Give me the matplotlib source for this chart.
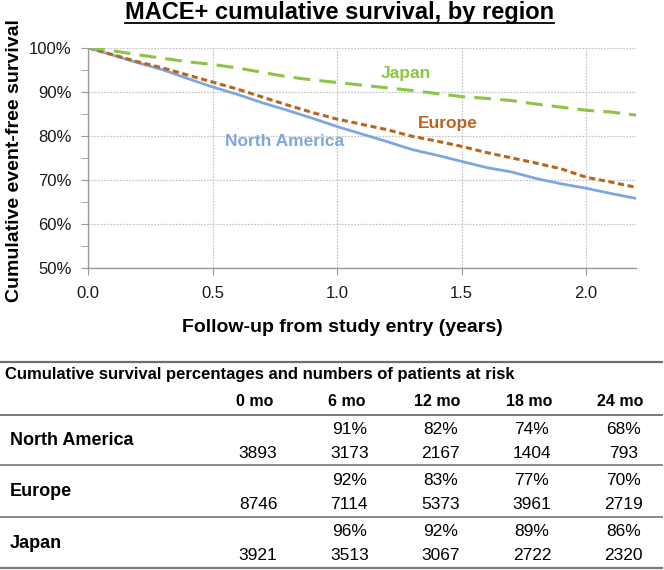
import numpy as np
import matplotlib
matplotlib.use("Agg")
import matplotlib.pyplot as plt
from matplotlib.lines import Line2D
from matplotlib.ticker import MultipleLocator, FuncFormatter

plt.rcParams['font.family'] = ['Liberation Sans', 'DejaVu Sans']

# Survival curves (years, % event-free)
years = [0.0, 0.1, 0.2, 0.3, 0.4, 0.5, 0.6, 0.7, 0.8, 0.9, 1.0, 1.1,
         1.2, 1.3, 1.4, 1.5, 1.6, 1.7, 1.8, 1.9, 2.0, 2.1, 2.2]
north_america = [100, 98.3, 96.6, 95.0, 93.0, 91.1, 89.4, 87.5, 85.8, 84.0, 82.1, 80.4,
                 78.7, 76.9, 75.6, 74.2, 72.8, 71.8, 70.3, 69.1, 68.1, 66.9, 65.8]
europe = [100, 98.4, 96.8, 95.4, 93.8, 92.2, 90.6, 88.8, 87.0, 85.3, 83.8, 82.6,
          81.4, 79.9, 78.8, 77.6, 76.2, 75.0, 73.8, 72.5, 70.6, 69.5, 68.3]
japan = [100, 99.3, 98.4, 97.6, 96.8, 96.2, 95.4, 94.4, 93.4, 92.7, 92.1, 91.5,
         90.9, 90.3, 89.6, 88.9, 88.5, 88.0, 87.2, 86.5, 85.8, 85.4, 84.7]

# Table under the chart
regions = ["North America", "Europe", "Japan"]
months = ["0 mo", "6 mo", "12 mo", "18 mo", "24 mo"]
pct_na = ["", "91%", "82%", "74%", "68%"]
pct_eu = ["", "92%", "83%", "77%", "70%"]
pct_jp = ["", "96%", "92%", "89%", "86%"]
risk_na = [3893, 3173, 2167, 1404, 793]
risk_eu = [8746, 7114, 5373, 3961, 2719]
risk_jp = [3921, 3513, 3067, 2722, 2320]

C_NA = "#7fa7df"
C_EU = "#b8661d"
C_JP = "#8cc443"

W, H = 664, 570
fig = plt.figure(figsize=(W / 100, H / 100), dpi=100)


def fx(px):
    return px / W


def fy(py):
    return 1 - py / H


ax = fig.add_axes([fx(88), fy(268), fx(636 - 88), (268 - 47.7) / H])
ax.plot(years, north_america, color=C_NA, lw=2.0, solid_joinstyle="round")
ax.plot(years, europe, color=C_EU, lw=2.2, dashes=(2.0, 1.2))
ax.plot(years, japan, color=C_JP, lw=2.2, dashes=(5.5, 3.0))

ax.set_xlim(0, 2.2)
ax.set_ylim(50, 100)
ax.xaxis.set_major_locator(MultipleLocator(0.5))
ax.yaxis.set_major_locator(MultipleLocator(10))
ax.yaxis.set_minor_locator(MultipleLocator(5))
ax.xaxis.set_major_formatter(FuncFormatter(lambda v, p: f"{v:.1f}"))
ax.yaxis.set_major_formatter(FuncFormatter(lambda v, p: f"{v:.0f}%"))
ax.grid(True, which="major", color="#c8c8c8", lw=0.9, ls=(0, (1.5, 1)))
ax.set_axisbelow(True)
for s in ("top", "right"):
    ax.spines[s].set_visible(False)
for s in ("left", "bottom"):
    ax.spines[s].set_color("#9a9a9a")
    ax.spines[s].set_linewidth(1.0)
ax.tick_params(axis="both", which="both", color="#9a9a9a", labelsize=12,
               labelcolor="#1a1a1a", direction="out")
ax.tick_params(axis="y", which="both", length=5, pad=7)
ax.tick_params(axis="x", which="major", length=5, pad=8)

ax.text(1.275, 94.25, "Japan", color=C_JP, fontsize=12.5, fontweight="bold",
        ha="center", va="center")
ax.text(1.444, 82.9, "Europe", color=C_EU, fontsize=12.5, fontweight="bold",
        ha="center", va="center")
ax.text(0.788, 78.6, "North America", color=C_NA, fontsize=12.5, fontweight="bold",
        ha="center", va="center")

title = fig.text(fx(339.5), fy(12), "MACE+ cumulative survival, by region",
                 fontsize=17, fontweight="bold", ha="center", va="center")
fig.text(fx(15), fy(161), "Cumulative event-free survival", fontsize=14,
         fontweight="bold", rotation=90, ha="center", va="center")
fig.text(fx(342.5), fy(327), "Follow-up from study entry (years)", fontsize=14,
         fontweight="bold", ha="center", va="center")

# underline the title
fig.canvas.draw()
bb = title.get_window_extent()
fig.add_artist(Line2D([bb.x0 / W, bb.x1 / W], [fy(22.5), fy(22.5)],
                      color="black", lw=1.3))

# table
for yl, lw_, c in [(362, 1.6, "#6e6e6e"), (415, 1.4, "#7a7a7a"), (465, 1.4, "#8a8a8a"),
                   (517, 1.4, "#8a8a8a"), (568, 1.6, "#7a7a7a")]:
    fig.add_artist(Line2D([0, fx(662)], [fy(yl), fy(yl)], color=c, lw=lw_))

fig.text(fx(5), fy(375), "Cumulative survival percentages and numbers of patients at risk",
         fontsize=12, fontweight="bold", ha="left", va="center")

col_x = [255 + i * 91.3 for i in range(len(months))]
for x, m in zip(col_x, months):
    fig.text(fx(x), fy(402), m, fontsize=11.5, fontweight="bold", ha="center", va="center")

rows = [(pct_na, risk_na), (pct_eu, risk_eu), (pct_jp, risk_jp)]
for i, (name, (pcts, risks)) in enumerate(zip(regions, rows)):
    y0 = 429 + i * 51.5
    fig.text(fx(10), fy(y0 + 11.5), name, fontsize=13, fontweight="bold",
             ha="left", va="center")
    for x, p, n in zip(col_x, pcts, risks):
        if p:
            fig.text(fx(x + 3), fy(y0), p, fontsize=12.5, ha="center", va="center")
        fig.text(fx(x + 3), fy(y0 + 24), str(n), fontsize=12.5, ha="center", va="center")

fig.savefig("out.png", dpi=100)
